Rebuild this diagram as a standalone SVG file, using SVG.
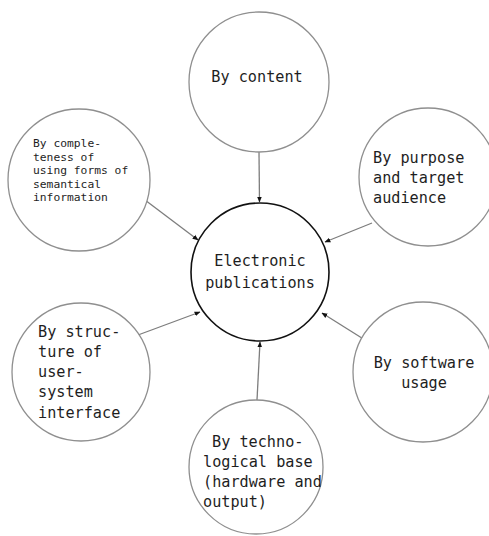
<svg xmlns="http://www.w3.org/2000/svg" width="489" height="536" viewBox="0 0 489 536">
  <defs>
    <style>
      .node { fill: #ffffff; stroke: #8f8f8f; stroke-width: 1.3; }
      .hub { fill: #ffffff; stroke: #111111; stroke-width: 1.6; }
      .lbl { font-family: "DejaVu Sans Mono", "Liberation Mono", monospace; font-size: 15.2px; fill: #1e1e1e; }
      .small { font-size: 11.3px; }
      .edge { stroke: #7d7d7d; stroke-width: 1.3; fill: none; marker-end: url(#head); }
    </style>
    <marker id="head" viewBox="0 0 10 10" refX="9" refY="5" markerWidth="6" markerHeight="6" orient="auto" markerUnits="userSpaceOnUse">
      <path d="M0,1 L10,5 L0,9 Z" fill="#111111"/>
    </marker>
  </defs>

  <rect width="489" height="536" fill="#ffffff"/>

  <g id="connectors">
    <line class="edge" x1="259" y1="152" x2="259.5" y2="202"/>
    <line class="edge" x1="145" y1="200" x2="198" y2="240"/>
    <line class="edge" x1="372" y1="223" x2="325" y2="242"/>
    <line class="edge" x1="138" y1="335" x2="200" y2="312"/>
    <line class="edge" x1="365" y1="340" x2="322" y2="313"/>
    <line class="edge" x1="257" y1="400" x2="260" y2="342"/>
  </g>

  <g id="by-content">
    <circle class="node" cx="259" cy="82" r="70"/>
    <text class="lbl" x="257" y="82" text-anchor="middle">By content</text>
  </g>

  <g id="by-completeness">
    <circle class="node" cx="79" cy="180" r="71"/>
    <text class="lbl small" x="33" y="147">By comple-</text>
    <text class="lbl small" x="33" y="161">teness of</text>
    <text class="lbl small" x="33" y="174">using forms of</text>
    <text class="lbl small" x="33" y="188">semantical</text>
    <text class="lbl small" x="33" y="201">information</text>
  </g>

  <g id="by-purpose">
    <circle class="node" cx="428" cy="177" r="69"/>
    <text class="lbl" x="373" y="163">By purpose</text>
    <text class="lbl" x="373" y="183">and target</text>
    <text class="lbl" x="373" y="203">audience</text>
  </g>

  <g id="electronic-publications">
    <circle class="hub" cx="260" cy="272" r="69"/>
    <text class="lbl" x="260" y="266" text-anchor="middle">Electronic</text>
    <text class="lbl" x="260" y="288" text-anchor="middle">publications</text>
  </g>

  <g id="by-structure">
    <circle class="node" cx="81" cy="372" r="69"/>
    <text class="lbl" x="38" y="337">By struc-</text>
    <text class="lbl" x="38" y="357">ture of</text>
    <text class="lbl" x="38" y="377">user-</text>
    <text class="lbl" x="38" y="397">system</text>
    <text class="lbl" x="38" y="418">interface</text>
  </g>

  <g id="by-software">
    <circle class="node" cx="423" cy="372" r="70"/>
    <text class="lbl" x="424" y="368" text-anchor="middle">By software</text>
    <text class="lbl" x="424" y="388" text-anchor="middle">usage</text>
  </g>

  <g id="by-technological-base">
    <circle class="node" cx="256" cy="467" r="67"/>
    <text class="lbl" x="212" y="447">By techno-</text>
    <text class="lbl" x="203" y="467">logical base</text>
    <text class="lbl" x="203" y="487">(hardware and</text>
    <text class="lbl" x="203" y="507">output)</text>
  </g>
</svg>
